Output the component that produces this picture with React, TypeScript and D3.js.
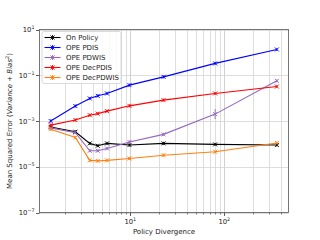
import { useEffect, useRef } from "react";
import * as d3 from "d3";

const divergence = [1.42, 2.6, 3.7, 4.5, 5.65, 9.8, 22.6, 80, 363];
const onPolicy = [5.5e-4, 3.4e-4, 1.05e-4, 8.3e-5, 1.05e-4, 8.9e-5, 1.05e-4, 9.5e-5, 8.9e-5];
const opePDIS = [1.0e-3, 4.5e-3, 9.7e-3, 1.26e-2, 1.6e-2, 3.7e-2, 8.5e-2, 0.33, 1.34];
const opePDWIS = [5.0e-4, 3.1e-4, 5.0e-5, 5.0e-5, 6.3e-5, 1.2e-4, 2.6e-4, 2.0e-3, 5.7e-2];
const opeDecPDIS = [6.6e-4, 1.1e-3, 1.8e-3, 2.1e-3, 2.7e-3, 4.6e-3, 8.2e-3, 1.6e-2, 3.2e-2];
const opeDecPDWIS = [4.4e-4, 1.9e-4, 1.9e-5, 1.8e-5, 1.9e-5, 2.3e-5, 3.2e-5, 4.5e-5, 1.1e-4];

const seriesNames = ["On Policy", "OPE PDIS", "OPE PDWIS", "OPE DecPDIS", "OPE DecPDWIS"];
const seriesColors = ["#000000", "#0000ff", "#9467bd", "#ff0000", "#ff7f0e"];
const yTicks = [1e1, 1e-1, 1e-3, 1e-5, 1e-7];
const yTickExp = ["1", "\u22121", "\u22123", "\u22125", "\u22127"];
const xTicks = [10, 100];
const xTickExp = ["1", "2"];

const App = () => {
  const ref: any = useRef<SVGSVGElement>(null);

  useEffect(() => {
    const m = { left: 39.5, right: 288.5, top: 29.5, bottom: 212.5 };
    const svg = d3.select(ref.current);
    svg.selectAll("*").remove();

    const x = d3.scaleLog().domain([1.08, 483]).range([m.left, m.right]);
    const y = d3.scaleLog().domain([1e-7, 1e1]).range([m.bottom, m.top]);

    const g = svg.append("g");
    // minor vertical grid
    const minor: number[] = [];
    [1, 10, 100].forEach((d) => {
      for (let k = 2; k < 10; k++) {
        const v = d * k;
        if (v > 1.08 && v < 483) minor.push(v);
      }
    });
    const px = (d: number) => Math.round(x(d)) + 0.5;
    g.selectAll(".vminor").data(minor).join("line")
      .attr("x1", px).attr("x2", px)
      .attr("y1", m.top).attr("y2", m.bottom)
      .attr("stroke", "#d6d6d6").attr("stroke-width", 0.8);
    g.selectAll(".vmajor").data(xTicks).join("line")
      .attr("x1", px).attr("x2", px)
      .attr("y1", m.top).attr("y2", m.bottom)
      .attr("stroke", "#c4c4c4").attr("stroke-width", 0.8);
    g.selectAll(".hmajor").data(yTicks).join("line")
      .attr("x1", m.left).attr("x2", m.right)
      .attr("y1", (d) => Math.round(y(d)) + 0.5).attr("y2", (d) => Math.round(y(d)) + 0.5)
      .attr("stroke", "#d4d4d4").attr("stroke-width", 0.8);

    // tick marks
    g.selectAll(".mt").data(minor).join("line")
      .attr("x1", px).attr("x2", px)
      .attr("y1", m.bottom).attr("y2", m.bottom + 2)
      .attr("stroke", "#333").attr("stroke-width", 0.6);
    g.selectAll(".Mt").data(xTicks).join("line")
      .attr("x1", px).attr("x2", px)
      .attr("y1", m.bottom).attr("y2", m.bottom + 3.5)
      .attr("stroke", "#333").attr("stroke-width", 0.8);
    g.selectAll(".yt").data(yTicks).join("line")
      .attr("x1", m.left - 3.5).attr("x2", m.left)
      .attr("y1", (d) => Math.round(y(d)) + 0.5).attr("y2", (d) => Math.round(y(d)) + 0.5)
      .attr("stroke", "#333").attr("stroke-width", 0.8);

    const font = "DejaVu Sans, sans-serif";
    const xl = g.selectAll(".xl").data(xTicks).join("text")
      .attr("x", (d) => x(d)).attr("y", m.bottom + 11.5)
      .attr("text-anchor", "middle").attr("font-family", font).attr("font-size", 6.8).attr("fill", "#222");
    xl.append("tspan").text("10");
    xl.append("tspan").attr("dy", -3).attr("font-size", 4.8).text((_d, i) => xTickExp[i]);

    const yl = g.selectAll(".yl").data(yTicks).join("text")
      .attr("x", m.left - 5).attr("y", (d) => y(d) + 2.5)
      .attr("text-anchor", "end").attr("font-family", font).attr("font-size", 6.8).attr("fill", "#222");
    yl.append("tspan").text("10");
    yl.append("tspan").attr("dy", -3).attr("font-size", 4.8).text((_d, i) => yTickExp[i]);

    g.append("text").attr("x", (m.left + m.right) / 2).attr("y", 234)
      .attr("text-anchor", "middle").attr("font-family", font).attr("font-size", 7).attr("fill", "#222")
      .text("Policy Divergence");

    const ylab = g.append("text")
      .attr("transform", `translate(12,${(m.top + m.bottom) / 2}) rotate(-90)`)
      .attr("text-anchor", "middle").attr("font-family", font).attr("font-size", 7).attr("fill", "#222");
    ylab.append("tspan").text("Mean Squared Error (");
    ylab.append("tspan").attr("font-style", "italic").text("Variance");
    ylab.append("tspan").text(" + ");
    ylab.append("tspan").attr("font-style", "italic").text("Bias");
    ylab.append("tspan").attr("dy", -3).attr("font-size", 5).text("2");
    ylab.append("tspan").attr("dy", 3).text(")");

    const all = [onPolicy, opePDIS, opePDWIS, opeDecPDIS, opeDecPDWIS];
    const line = d3.line<number>().x((_d, i) => x(divergence[i])).y((d) => y(d));
    const s = 2;
    all.forEach((vals, si) => {
      const c = seriesColors[si];
      const sg = svg.append("g");
      sg.append("path").attr("d", line(vals)).attr("fill", "none").attr("stroke", c).attr("stroke-width", 1.1);
      vals.forEach((v, i) => {
        const cx = x(divergence[i]), cy = y(v);
        const eb = si === 2 && i === 7 ? 5 : 1.5;
        sg.append("line").attr("x1", cx).attr("x2", cx).attr("y1", cy - eb).attr("y2", cy + eb)
          .attr("stroke", c).attr("stroke-width", 0.9);
        sg.append("path").attr("d", `M${cx - s},${cy - s}L${cx + s},${cy + s}M${cx - s},${cy + s}L${cx + s},${cy - s}`)
          .attr("stroke", c).attr("stroke-width", 0.9);
      });
    });

    // frame
    svg.append("rect").attr("x", m.left).attr("y", m.top)
      .attr("width", m.right - m.left).attr("height", m.bottom - m.top)
      .attr("fill", "none").attr("stroke", "#666").attr("stroke-width", 0.9);

    // legend
    const lg = svg.append("g");
    lg.append("rect").attr("x", 42).attr("y", 31.5).attr("width", 79).attr("height", 52).attr("rx", 2)
      .attr("fill", "white").attr("fill-opacity", 0.8).attr("stroke", "#d0d0d0").attr("stroke-width", 0.8);
    seriesNames.forEach((name, i) => {
      const ly = 37.5 + i * 10;
      const c = seriesColors[i];
      lg.append("line").attr("x1", 44.5).attr("x2", 60.5).attr("y1", ly).attr("y2", ly)
        .attr("stroke", c).attr("stroke-width", 1.1);
      lg.append("line").attr("x1", 52.5).attr("x2", 52.5).attr("y1", ly - 2.5).attr("y2", ly + 2.5)
        .attr("stroke", c).attr("stroke-width", 0.9);
      lg.append("path").attr("d", `M${52.5 - s},${ly - s}L${52.5 + s},${ly + s}M${52.5 - s},${ly + s}L${52.5 + s},${ly - s}`)
        .attr("stroke", c).attr("stroke-width", 0.9);
      lg.append("text").attr("x", 66).attr("y", ly + 2.5).attr("font-family", font).attr("font-size", 7)
        .attr("fill", "#222").text(name);
    });
  }, []);

  return <svg ref={ref} width={320} height={240} style={{ display: "block", position: "absolute", left: 0, top: 0 }} />;
};

export default App;
